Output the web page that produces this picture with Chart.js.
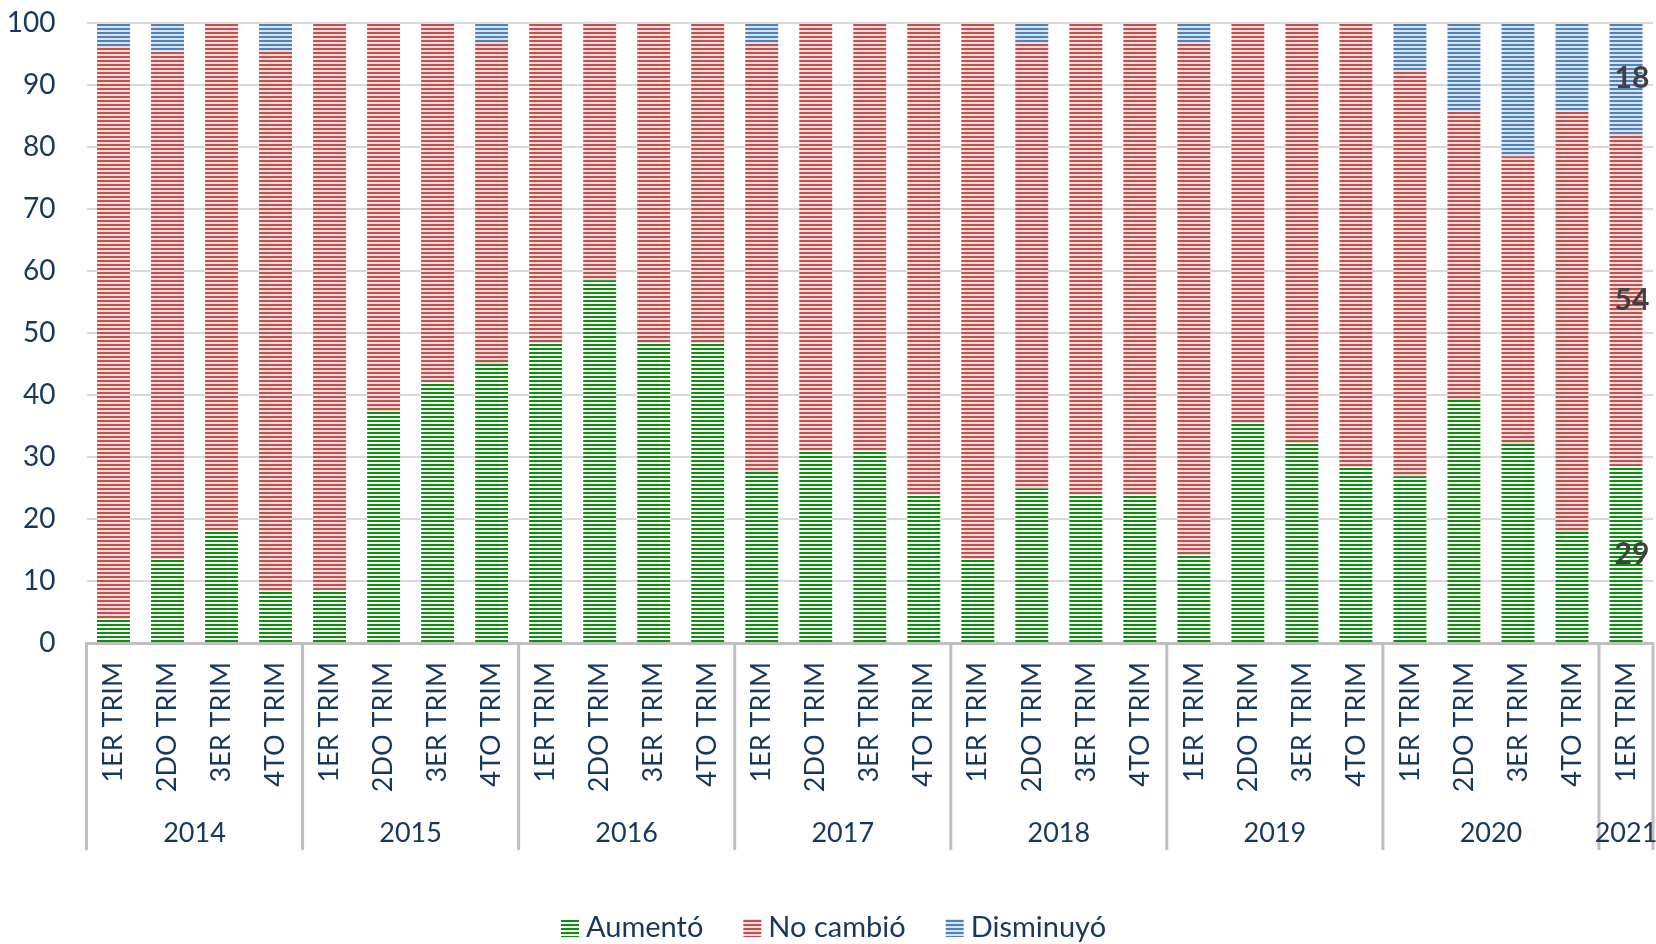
<!DOCTYPE html>
<html>
<head>
<meta charset="utf-8">
<script src="https://cdn.jsdelivr.net/npm/chart.js@4.4.0/dist/chart.umd.min.js"></script>
<style>
  body { margin: 0; background: #fff; }
  #wrap { width: 1656px; height: 944px; }
</style>
</head>
<body>
<div id="wrap"><canvas id="chart" width="1656" height="944"></canvas></div>
<script>
const yearLabels = ['2014', '2015', '2016', '2017', '2018', '2019', '2020', '2021'];
const quartersPerYear = [4, 4, 4, 4, 4, 4, 4, 1];
const quarterNames = ['1ER TRIM', '2DO TRIM', '3ER TRIM', '4TO TRIM'];

// percent of answers, one value per quarter (2014 1ER TRIM .. 2021 1ER TRIM)
const aumento = [3.8, 13.5, 18.1, 8.3, 8.5, 37.3, 42.0, 45.0, 48.4, 58.5, 48.4, 48.4, 27.6, 31.0, 31.0, 23.9,
  13.5, 24.9, 23.9, 23.9, 14.2, 35.5, 32.2, 28.3, 26.9, 39.2, 32.1, 17.9, 28.5];
const noCambio = [92.5, 81.9, 81.9, 87.5, 91.5, 62.7, 58.0, 52.1, 51.6, 41.5, 51.6, 51.6, 69.0, 69.0, 69.0, 76.1,
  86.5, 71.7, 76.1, 76.1, 82.4, 64.5, 67.8, 71.7, 65.4, 46.5, 46.4, 67.8, 53.6];
const disminuyo = [3.7, 4.6, 0, 4.2, 0, 0, 0, 2.9, 0, 0, 0, 0, 3.4, 0, 0, 0,
  0, 3.4, 0, 0, 3.4, 0, 0, 0, 7.7, 14.3, 21.5, 14.3, 17.9];

const NAVY = '#17375e';
const FONT = 'Lato';

function stripes(line, gap) {
  const c = document.createElement('canvas');
  c.width = 4; c.height = 4;
  const g = c.getContext('2d');
  g.fillStyle = gap;
  g.fillRect(0, 0, 4, 4);
  g.fillStyle = line;
  g.fillRect(0, 0, 4, 2);
  return g.createPattern(c, 'repeat');
}

const labels = [];
yearLabels.forEach((y, i) => {
  for (let q = 0; q < quartersPerYear[i]; q++) labels.push(quarterNames[q]);
});

// quarter labels, year labels and group separators under the axis
const axisLabels = {
  id: 'axisLabels',
  afterDraw(chart) {
    const x = chart.scales.x;
    const ctx = chart.ctx;
    const step = x.getPixelForValue(1) - x.getPixelForValue(0);
    const base = chart.chartArea.bottom;
    ctx.save();
    ctx.fillStyle = NAVY;
    ctx.font = `27px ${FONT}`;
    labels.forEach((lab, i) => {
      ctx.save();
      ctx.translate(x.getPixelForValue(i), base + 19);
      ctx.rotate(-Math.PI / 2);
      ctx.textAlign = 'right';
      ctx.textBaseline = 'middle';
      ctx.fillText(lab, 0, 0);
      ctx.restore();
    });

    ctx.strokeStyle = '#bfbfbf';
    ctx.lineWidth = 3;
    ctx.textAlign = 'center';
    ctx.textBaseline = 'middle';
    let idx = 0;
    yearLabels.forEach((yr, i) => {
      const left = x.getPixelForValue(idx) - step / 2;
      const right = x.getPixelForValue(idx + quartersPerYear[i] - 1) + step / 2;
      ctx.beginPath();
      ctx.moveTo(left, base);
      ctx.lineTo(left, base + 207);
      ctx.stroke();
      if (i === yearLabels.length - 1) {
        ctx.beginPath();
        ctx.moveTo(right, base);
        ctx.lineTo(right, base + 207);
        ctx.stroke();
      }
      ctx.fillText(yr, (left + right) / 2, base + 190);
      idx += quartersPerYear[i];
    });
    ctx.restore();
  }
};

// values on the last bar only
const lastLabels = {
  id: 'lastLabels',
  afterDatasetsDraw(chart) {
    const ctx = chart.ctx;
    const last = labels.length - 1;
    ctx.save();
    ctx.fillStyle = '#404040';
    ctx.font = `bold 30px ${FONT}`;
    ctx.textAlign = 'center';
    ctx.textBaseline = 'middle';
    chart.data.datasets.forEach((ds, d) => {
      const el = chart.getDatasetMeta(d).data[last];
      const v = ds.data[last];
      if (!el || !v) return;
      ctx.fillText(Math.round(v), el.x + 6, (el.y + el.base) / 2);
    });
    ctx.restore();
  }
};

const legendBox = {
  id: 'legendBox',
  afterDraw(chart) {
    const ctx = chart.ctx;
    ctx.save();
    ctx.font = `29px ${FONT}`;
    ctx.textBaseline = 'middle';
    let x = 561;
    const y = 928;
    chart.data.datasets.forEach(ds => {
      ctx.fillStyle = ds.backgroundColor;
      ctx.fillRect(x, y - 9, 18, 18);
      ctx.fillStyle = NAVY;
      ctx.fillText(ds.label, x + 25, y);
      x += 25 + ctx.measureText(ds.label).width + 40;
    });
    ctx.restore();
  }
};

new Chart(document.getElementById('chart'), {
  type: 'bar',
  data: {
    labels,
    datasets: [
      { label: 'Aumentó', data: aumento, backgroundColor: stripes('#0a900a', '#ffffff') },
      { label: 'No cambió', data: noCambio, backgroundColor: stripes('#c0504d', '#f2dcdb') },
      { label: 'Disminuyó', data: disminuyo, backgroundColor: stripes('#4f81bd', '#dbe5f1') }
    ]
  },
  options: {
    responsive: false,
    animation: false,
    layout: { padding: { top: 23, right: 3, left: 0, bottom: 0 } },
    datasets: { bar: { barPercentage: 0.61, categoryPercentage: 1, borderWidth: 0 } },
    plugins: { legend: { display: false }, tooltip: { enabled: false } },
    scales: {
      x: {
        stacked: true,
        grid: { display: false },
        ticks: { display: false },
        border: { display: true, color: '#bfbfbf', width: 3 },
        afterFit: s => { s.height = 301; }
      },
      y: {
        stacked: true,
        min: 0,
        max: 100,
        ticks: { stepSize: 10, padding: 31, color: NAVY, font: { family: FONT, size: 28 } },
        grid: { color: '#d9d9d9', lineWidth: 2, drawTicks: false },
        border: { display: false },
        afterFit: s => { s.width = 86.5; s.paddingTop = 0; s.paddingBottom = 0; }
      }
    }
  },
  plugins: [axisLabels, lastLabels, legendBox]
});
</script>
</body>
</html>
